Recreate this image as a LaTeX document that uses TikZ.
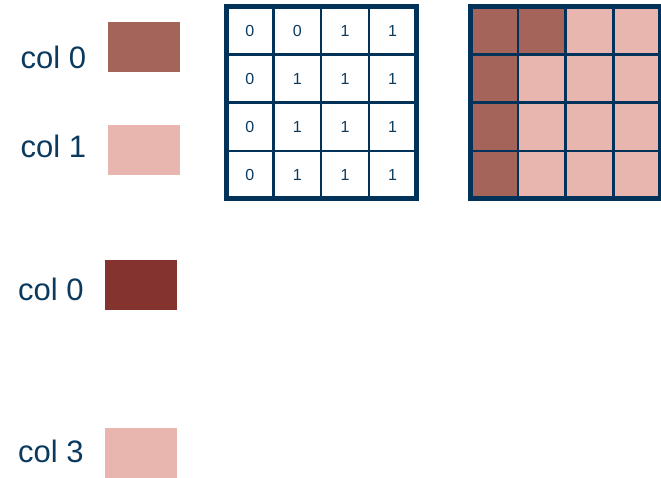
\documentclass[tikz,border=0pt]{standalone}
\usepackage{fontspec}
\setmainfont{Liberation Sans}
\definecolor{navy}{HTML}{00325A}
\definecolor{txt}{HTML}{0B3A5E}
\definecolor{dark}{HTML}{A4645A}
\definecolor{light}{HTML}{E8B5AF}
\definecolor{deep}{HTML}{85332F}
\begin{document}
\begin{tikzpicture}[x=1pt,y=-1pt,
  lbl/.style={anchor=base west,inner sep=0pt,text=txt,font=\fontsize{31}{31}\selectfont},
  num/.style={inner sep=0pt,text=txt,font=\fontsize{16}{16}\selectfont},
  swatch/.style={minimum width=72pt,minimum height=50pt,inner sep=0pt,draw=none},
  inner/.style={draw=navy,line width=2.5pt},
  outer/.style={draw=navy,line width=5pt}]
\useasboundingbox (0,0) rectangle (661,477);
% legend
\node[lbl] (l1) at (20.5,68.5) {col 0};
\node[lbl] (l2) at (20.5,157.5) {col 1};
\node[lbl] (l3) at (18,300.5) {col 0};
\node[lbl] (l4) at (18,462) {col 3};
\node[swatch,fill=dark]  (s1) at (144,47) {};
\node[swatch,fill=light] (s2) at (144,150) {};
\node[swatch,fill=deep]  (s3) at (141,284.5) {};
\node[swatch,fill=light] (s4) at (141,453) {};
% grid 1
\def\gx{226}\def\gy{6.5}\def\cw{47.6}\def\ch{48.1}
\foreach \r/\row in {0/{0,0,1,1},1/{0,1,1,1},2/{0,1,1,1},3/{0,1,1,1}}{
  \foreach \v [count=\c from 0] in \row {
    \node[num] (a-\r-\c) at ({\gx+(\c+0.5)*\cw},{\gy+(\r+0.5)*\ch}) {\v};
  }
}
\foreach \i in {1,2,3}{
  \draw[inner] ({\gx+\i*\cw},\gy) -- ({\gx+\i*\cw},{\gy+4*\ch});
  \draw[inner] (\gx,{\gy+\i*\ch}) -- ({\gx+4*\cw},{\gy+\i*\ch});
}
\draw[outer] (\gx,\gy) rectangle ({\gx+4*\cw},{\gy+4*\ch});
% grid 2
\def\hx{470.5}
\foreach \r/\row in {0/{dark,dark,light,light},1/{dark,light,light,light},2/{dark,light,light,light},3/{dark,light,light,light}}{
  \foreach \v [count=\c from 0] in \row {
    \fill[\v] ({\hx+\c*\cw},{\gy+\r*\ch}) rectangle ({\hx+(\c+1)*\cw},{\gy+(\r+1)*\ch});
  }
}
\foreach \i in {1,2,3}{
  \draw[inner] ({\hx+\i*\cw},\gy) -- ({\hx+\i*\cw},{\gy+4*\ch});
  \draw[inner] (\hx,{\gy+\i*\ch}) -- ({\hx+4*\cw},{\gy+\i*\ch});
}
\draw[outer] (\hx,\gy) rectangle ({\hx+4*\cw},{\gy+4*\ch});
\end{tikzpicture}
\end{document}
